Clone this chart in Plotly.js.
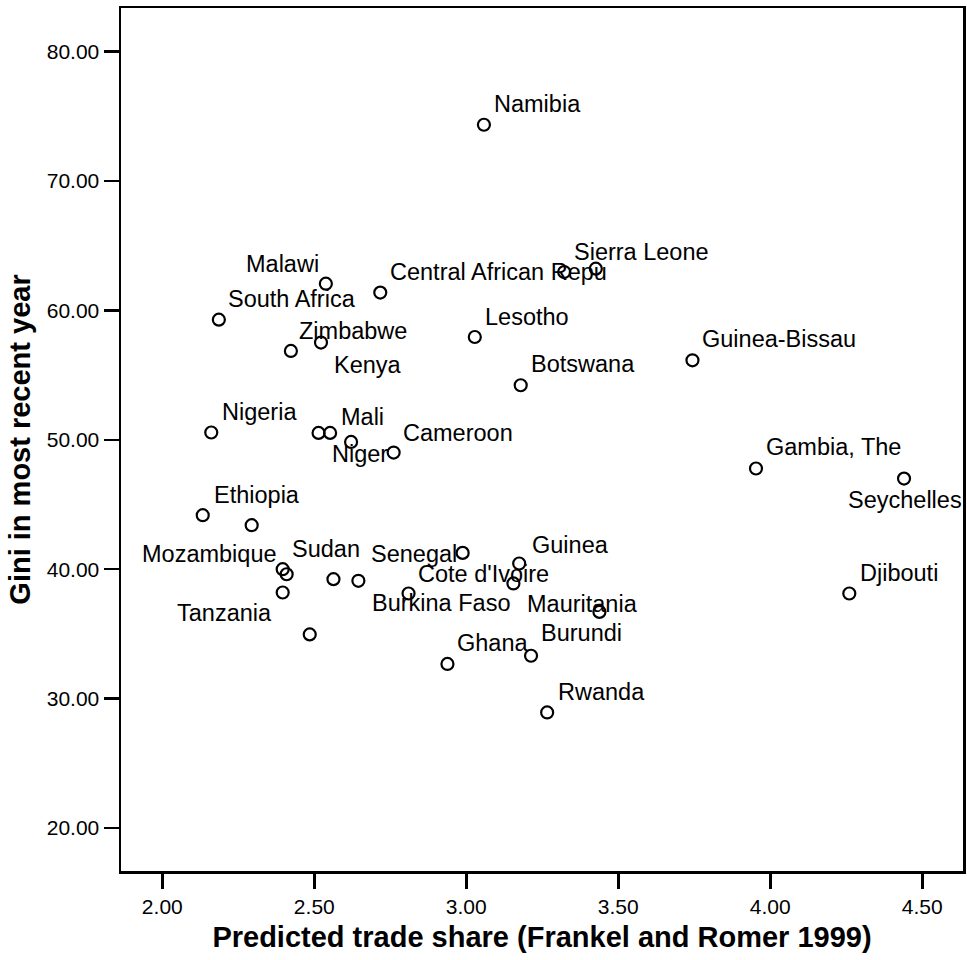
<!DOCTYPE html>
<html>
<head>
<meta charset="utf-8">
<script src="https://cdn.plot.ly/plotly-3.0.1.min.js"></script>
<style>
  html, body { margin: 0; padding: 0; background: #ffffff; }
  #chart { width: 967px; height: 960px; }
</style>
</head>
<body>
<div id="chart"></div>
<script>
// ---- data ----
const countries = [
  'Namibia', 'Malawi', 'Central African Repu', 'Sierra Leone', '',
  'South Africa', 'Zimbabwe', 'Kenya', 'Lesotho', 'Botswana',
  'Guinea-Bissau', 'Nigeria', '', 'Mali', 'Niger',
  'Cameroon', 'Gambia, The', 'Seychelles', 'Ethiopia', '',
  'Mozambique', 'Sudan', 'Tanzania', '', '',
  '', 'Senegal', 'Guinea', 'Burkina Faso', "Cote d'Ivoire",
  'Mauritania', 'Burundi', 'Ghana', 'Rwanda', 'Djibouti'
];
const tradeShare = [
  3.058, 2.538, 2.717, 3.322, 3.426,
  2.186, 2.423, 2.522, 3.028, 3.179,
  3.744, 2.161, 2.514, 2.552, 2.621,
  2.761, 3.953, 4.440, 2.133, 2.294,
  2.396, 2.409, 2.396, 2.563, 2.645,
  2.485, 2.988, 3.174, 3.155, 2.810,
  3.438, 3.213, 2.938, 3.266, 4.260
];
const gini = [
  74.34, 62.06, 61.37, 62.96, 63.22,
  59.28, 56.86, 57.51, 57.94, 54.21,
  56.14, 50.56, 50.53, 50.53, 49.83,
  49.01, 47.78, 47.00, 44.17, 43.40,
  40.00, 39.61, 38.20, 39.23, 39.10,
  34.96, 41.26, 40.44, 38.90, 38.12,
  36.70, 33.31, 32.68, 28.93, 38.12
];
const xTicks = [2.0, 2.5, 3.0, 3.5, 4.0, 4.5];
const yTicks = [20, 30, 40, 50, 60, 70, 80];
const xTitle = 'Predicted trade share (Frankel and Romer 1999)';
const yTitle = 'Gini in most recent year';

// ---- label placement (style/layout only): [anchor, xshift px, yshift px] ----
const labelPlacement = {
  'Namibia': ['left', 10, 21],
  'Sierra Leone': ['left', 10, 20],
  'Central African Repu': ['left', 10, 20.5],
  'Malawi': ['right', -6.5, 19.5],
  'South Africa': ['left', 9.5, 21],
  'Zimbabwe': ['left', 8.5, 20],
  'Kenya': ['left', 13.5, -22.5],
  'Lesotho': ['left', 10, 20],
  'Botswana': ['left', 10, 21],
  'Guinea-Bissau': ['left', 9.5, 21.5],
  'Nigeria': ['left', 11, 20.5],
  'Mali': ['left', 11, 16],
  'Niger': ['left', -19, -12.5],
  'Cameroon': ['left', 9, 19.5],
  'Gambia, The': ['left', 10, 21.5],
  'Seychelles': ['center', 1, -21],
  'Ethiopia': ['left', 11, 20],
  'Mozambique': ['right', -5.5, 15],
  'Sudan': ['left', 5.5, 25.5],
  'Tanzania': ['right', -11, -21],
  'Senegal': ['right', -6, -1],
  "Cote d'Ivoire": ['left', 9, 19.5],
  'Guinea': ['left', 13, 18],
  'Burkina Faso': ['right', -3.5, -20],
  'Mauritania': ['left', -72.5, 7.5],
  'Burundi': ['left', 10, 22.5],
  'Ghana': ['left', 10, 20.5],
  'Rwanda': ['left', 10.5, 20],
  'Djibouti': ['left', 10.5, 20.5]
};

const FONT = '"Liberation Sans", Arial, Helvetica, sans-serif';
const PAD = 2; // annotation box padding

const annotations = [];
countries.forEach((name, i) => {
  if (!name || !labelPlacement[name]) return;
  const [anchor, dx, dy] = labelPlacement[name];
  annotations.push({
    x: tradeShare[i], y: gini[i], xref: 'x', yref: 'y',
    text: name, showarrow: false,
    xanchor: anchor, yanchor: 'middle',
    xshift: anchor === 'left' ? dx - PAD : (anchor === 'right' ? dx + PAD : dx),
    yshift: dy,
    font: { family: FONT, size: 23.5, color: '#000000' }
  });
});

const trace = {
  type: 'scatter', mode: 'markers',
  x: tradeShare, y: gini, text: countries,
  marker: { symbol: 'circle-open', size: 12, color: '#000000', line: { width: 2.2, color: '#000000' } },
  hoverinfo: 'text+x+y'
};

const axisCommon = {
  showgrid: false, zeroline: false,
  showline: true, mirror: true, linecolor: '#000000', linewidth: 2.5,
  ticks: 'outside', ticklen: 15, tickwidth: 2.5, tickcolor: '#000000',
  tickfont: { family: FONT, size: 21, color: '#000000' },
  tickformat: '.2f', tickmode: 'array'
};

const layout = {
  width: 967, height: 960,
  margin: { l: 121, r: 4, t: 8, b: 89, pad: 0 },
  paper_bgcolor: '#ffffff', plot_bgcolor: '#ffffff',
  showlegend: false,
  xaxis: Object.assign({}, axisCommon, {
    range: [1.8641, 4.634], tickvals: xTicks,
    title: { text: xTitle, standoff: 10, font: { family: FONT, size: 29, weight: 'bold', color: '#000000' } }
  }),
  yaxis: Object.assign({}, axisCommon, {
    range: [16.68, 83.36], tickvals: yTicks,
    title: { text: yTitle, standoff: 8, font: { family: FONT, size: 29, weight: 'bold', color: '#000000' } }
  }),
  annotations: annotations
};

Plotly.newPlot('chart', [trace], layout, { displayModeBar: false, staticPlot: true });
</script>
</body>
</html>
